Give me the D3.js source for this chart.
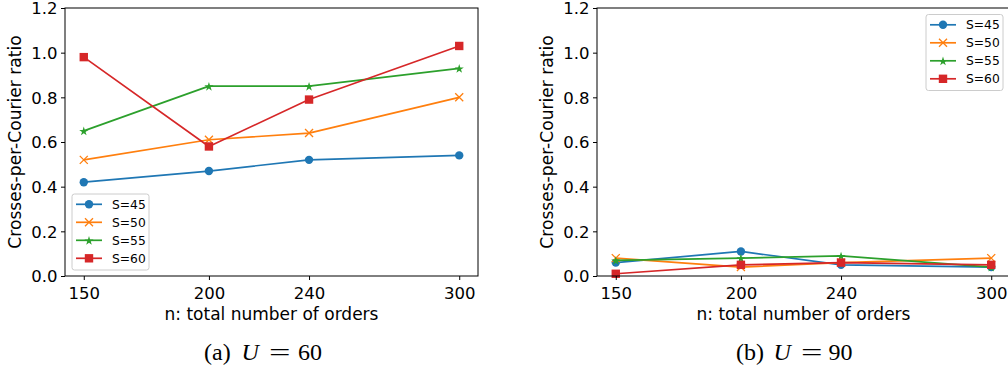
<!DOCTYPE html>
<html>
<head>
<meta charset="utf-8">
<script src="https://cdn.jsdelivr.net/npm/d3@7"></script>
<style>
  html, body { margin: 0; padding: 0; background: #fff; }
  svg { display: block; }
</style>
</head>
<body>
<svg id="chart" width="1008" height="368"></svg>
<script>
// ---------- data ----------
const nValues = [150, 200, 240, 300];
const xTickValues = [150, 200, 240, 300];
const yTickValues = [0, 0.2, 0.4, 0.6, 0.8, 1.0, 1.2];
const seriesNames = ["S=45", "S=50", "S=55", "S=60"];
const seriesColors = ["#1f77b4", "#ff7f0e", "#2ca02c", "#d62728"];
const seriesMarkers = ["circle", "x", "star", "square"];

// panel (a) U = 60
const u60_S45 = [0.42, 0.47, 0.52, 0.54];
const u60_S50 = [0.52, 0.61, 0.64, 0.80];
const u60_S55 = [0.65, 0.85, 0.85, 0.93];
const u60_S60 = [0.98, 0.58, 0.79, 1.03];

// panel (b) U = 90
const u90_S45 = [0.06, 0.11, 0.05, 0.04];
const u90_S50 = [0.08, 0.04, 0.06, 0.08];
const u90_S55 = [0.07, 0.08, 0.09, 0.04];
const u90_S60 = [0.01, 0.05, 0.06, 0.05];

const xLabel = "n: total number of orders";
const yLabel = "Crosses-per-Courier ratio";

// ---------- drawing ----------
const svg = d3.select("#chart");
const FONT = "'DejaVu Sans', sans-serif";

function drawMarker(g, type, color, x, y) {
  if (type === "circle") {
    g.append("circle").attr("cx", x).attr("cy", y).attr("r", 4.2).attr("fill", color);
  } else if (type === "square") {
    g.append("rect").attr("x", x - 4.2).attr("y", y - 4.2).attr("width", 8.4).attr("height", 8.4).attr("fill", color);
  } else if (type === "x") {
    const s = 4;
    g.append("path").attr("d", `M${x - s},${y - s}L${x + s},${y + s}M${x - s},${y + s}L${x + s},${y - s}`)
      .attr("stroke", color).attr("stroke-width", 1.3).attr("fill", "none");
  } else if (type === "star") {
    g.append("path").attr("d", d3.symbol(d3.symbolStar, 26)()).attr("transform", `translate(${x},${y + 0.6})`).attr("fill", color);
  }
}

function drawPanel(opts) {
  const { left, right, top, bottom, series, legend, caption } = opts;
  const g = svg.append("g");
  const x = d3.scaleLinear().domain([142.5, 307.5]).range([left, right]);
  const y = d3.scaleLinear().domain([0, 1.2]).range([bottom, top]);

  // series
  const line = d3.line().x((d, i) => x(nValues[i])).y(d => y(d));
  series.forEach((vals, si) => {
    const sg = g.append("g");
    sg.append("path").attr("d", line(vals)).attr("fill", "none")
      .attr("stroke", seriesColors[si]).attr("stroke-width", 1.7).attr("stroke-linejoin", "round");
    vals.forEach((v, i) => drawMarker(sg, seriesMarkers[si], seriesColors[si], x(nValues[i]), y(v)));
  });

  // axes
  const xAxis = d3.axisBottom(x).tickValues(xTickValues).tickSize(4).tickPadding(5).tickFormat(d3.format("d"));
  const yAxis = d3.axisLeft(y).tickValues(yTickValues).tickSize(4).tickPadding(4).tickFormat(d3.format(".1f"));
  const gx = g.append("g").attr("transform", `translate(0,${bottom})`).call(xAxis);
  const gy = g.append("g").attr("transform", `translate(${left},0)`).call(yAxis);
  [gx, gy].forEach(a => {
    a.select(".domain").remove();
    a.selectAll("line").attr("stroke", "#000").attr("stroke-width", 1);
    a.selectAll("text").attr("font-family", FONT).attr("font-size", 16.5).attr("fill", "#000");
  });
  gx.selectAll("text").attr("dy", null).attr("y", 22.7);
  gy.selectAll("text").attr("dy", "0.36em").attr("x", -7.5);

  // spines
  g.append("rect").attr("x", left).attr("y", top).attr("width", right - left).attr("height", bottom - top)
    .attr("fill", "none").attr("stroke", "#000").attr("stroke-width", 1);

  // axis labels
  g.append("text").attr("x", (left + right) / 2).attr("y", bottom + 43.7).attr("text-anchor", "middle")
    .attr("font-family", FONT).attr("font-size", 17).text(xLabel);
  g.append("text").attr("transform", `translate(${left - 50},${(top + bottom) / 2}) rotate(-90)`)
    .attr("text-anchor", "middle").attr("dy", "0.36em")
    .attr("font-family", FONT).attr("font-size", 17.1).text(yLabel);

  // legend
  const lg = g.append("g").attr("transform", `translate(${legend.x},${legend.y})`);
  lg.append("rect").attr("x", 0).attr("y", 0).attr("width", 77).attr("height", 76).attr("rx", 2.5)
    .attr("fill", "#fff").attr("fill-opacity", 0.8).attr("stroke", "#cccccc").attr("stroke-width", 1);
  seriesNames.forEach((name, si) => {
    const ey = 10.3 + si * 18;
    lg.append("line").attr("x1", 4).attr("x2", 30).attr("y1", ey).attr("y2", ey)
      .attr("stroke", seriesColors[si]).attr("stroke-width", 1.7);
    drawMarker(lg, seriesMarkers[si], seriesColors[si], 17, ey);
    lg.append("text").attr("x", 40).attr("y", ey).attr("dy", "0.36em")
      .attr("font-family", FONT).attr("font-size", 12.3).text(name);
  });

  // caption
  const cx = (left + right) / 2;
  const cy = 359.7;
  const cf = "'Liberation Serif', 'Times New Roman', serif";
  const cap = g.append("g").attr("font-family", cf).attr("font-size", 24).attr("fill", "#000");
  cap.append("text").attr("x", cx - 67.5).attr("y", cy).text(caption.label);
  cap.append("text").attr("x", cx - 30).attr("y", cy).attr("font-style", "italic").text("U");
  cap.append("text").attr("x", cx - 2.5).attr("y", cy).attr("textLength", 21.5).attr("lengthAdjust", "spacingAndGlyphs").text("=");
  cap.append("text").attr("x", cx + caption.numOffset).attr("y", cy).text(caption.value);
}

drawPanel({
  left: 65, right: 478, top: 8, bottom: 276,
  series: [u60_S45, u60_S50, u60_S55, u60_S60],
  legend: { x: 72, y: 194 },
  caption: { label: "(a)", value: "60", numOffset: 26.5 }
});

drawPanel({
  left: 597, right: 1010, top: 8, bottom: 276,
  series: [u90_S45, u90_S50, u90_S55, u90_S60],
  legend: { x: 926, y: 14.5 },
  caption: { label: "(b)", value: "90", numOffset: 25 }
});
</script>
</body>
</html>
